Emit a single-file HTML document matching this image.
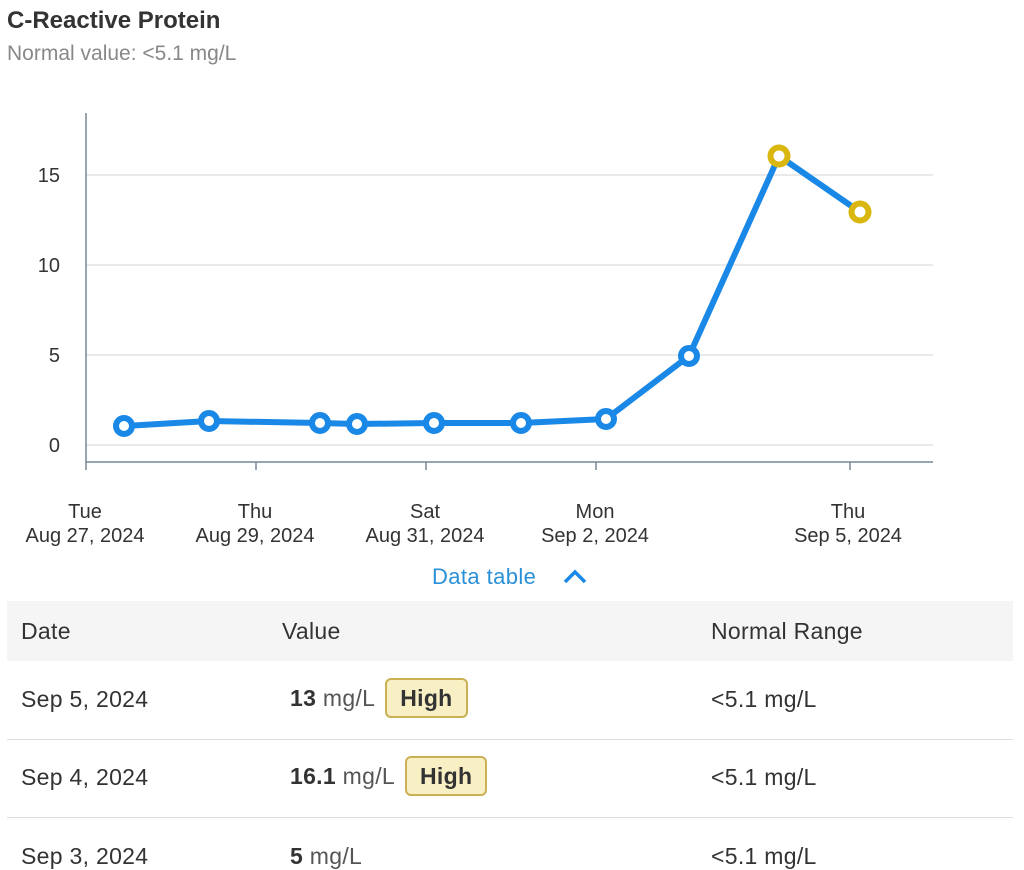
<!DOCTYPE html>
<html><head><meta charset="utf-8"><style>
body{margin:0;width:1024px;height:867px;background:#fff;overflow:hidden;position:relative;font-family:"Liberation Sans",sans-serif}
.t{position:absolute;white-space:nowrap}
.h{font-size:24px;font-weight:bold;color:#333;left:7px;top:7px}
.s{font-size:21px;color:#888;left:7px;top:42px}
.row{position:absolute;left:7px;width:1006px;border-bottom:1px solid #ddd}
.c{position:absolute;font-size:23px;color:#333;white-space:nowrap;letter-spacing:0.3px}
.badge{display:inline-block;background:#f8efc4;border:2px solid #c9b055;border-radius:6px;padding:2px 13px;font-weight:bold;color:#333;margin-left:10px;line-height:32px}
</style></head><body>
<div class="t h">C-Reactive Protein</div>
<div class="t s">Normal value: &lt;5.1 mg/L</div>
<svg width="1024" height="600" style="position:absolute;left:0;top:0" font-family="Liberation Sans, sans-serif">
<g stroke="#e4e4e4" stroke-width="1.5">
<line x1="86" y1="175" x2="933" y2="175"/><line x1="86" y1="265" x2="933" y2="265"/>
<line x1="86" y1="355" x2="933" y2="355"/><line x1="86" y1="445" x2="933" y2="445"/></g>
<line x1="86" y1="113" x2="86" y2="462" stroke="#778899" stroke-width="1.5"/>
<line x1="86" y1="462" x2="933" y2="462" stroke="#778899" stroke-width="1.5"/>
<g stroke="#778899" stroke-width="1.5"><line x1="86" y1="462" x2="86" y2="470"/><line x1="256" y1="462" x2="256" y2="470"/><line x1="426" y1="462" x2="426" y2="470"/><line x1="596" y1="462" x2="596" y2="470"/><line x1="850" y1="462" x2="850" y2="470"/></g>
<g font-size="20" fill="#333" text-anchor="end"><text x="60" y="182">15</text><text x="60" y="272">10</text><text x="60" y="362">5</text><text x="60" y="452">0</text></g>
<g font-size="20" fill="#333" text-anchor="middle">
<text x="85" y="518">Tue</text><text x="85" y="542">Aug 27, 2024</text>
<text x="255" y="518">Thu</text><text x="255" y="542">Aug 29, 2024</text>
<text x="425" y="518">Sat</text><text x="425" y="542">Aug 31, 2024</text>
<text x="595" y="518">Mon</text><text x="595" y="542">Sep 2, 2024</text>
<text x="848" y="518">Thu</text><text x="848" y="542">Sep 5, 2024</text></g>
<polyline fill="none" stroke="#1a88e6" stroke-width="6" stroke-linejoin="round" points="124,426 209,421 320,423 357,424 434,423 521,423 606,419 689,356 779,156 860,212"/>
<g fill="#fff" stroke="#1a88e6" stroke-width="6">
<circle cx="124" cy="426" r="8"/><circle cx="209" cy="421" r="8"/><circle cx="320" cy="423" r="8"/><circle cx="357" cy="424" r="8"/><circle cx="434" cy="423" r="8"/><circle cx="521" cy="423" r="8"/><circle cx="606" cy="419" r="8"/><circle cx="689" cy="356" r="8"/></g>
<g fill="#fff" stroke="#d9b70f" stroke-width="6">
<circle cx="779" cy="156" r="8.5"/><circle cx="860" cy="212" r="8.5"/></g>
<text x="432" y="584" font-size="22" fill="#2a90d8" letter-spacing="0.4">Data table</text>
<polyline points="565,582 575,572 585,582" fill="none" stroke="#1a88e6" stroke-width="3.5"/>
</svg>
<div style="position:absolute;left:7px;top:601px;width:1006px;height:60px;background:#f5f5f5"></div>
<div class="c" style="left:21px;top:618px">Date</div>
<div class="c" style="left:282px;top:618px">Value</div>
<div class="c" style="left:711px;top:618px">Normal Range</div>
<div class="row" style="top:661px;height:78px"></div>
<div class="row" style="top:739px;height:78px"></div>
<div class="c" style="left:21px;top:686px">Sep 5, 2024</div>
<div class="c" style="left:290px;top:678px"><b>13</b> <span style="color:#555">mg/L</span><span class="badge">High</span></div>
<div class="c" style="left:711px;top:686px">&lt;5.1 mg/L</div>
<div class="c" style="left:21px;top:764px">Sep 4, 2024</div>
<div class="c" style="left:290px;top:756px"><b>16.1</b> <span style="color:#555">mg/L</span><span class="badge">High</span></div>
<div class="c" style="left:711px;top:764px">&lt;5.1 mg/L</div>
<div class="c" style="left:21px;top:843px">Sep 3, 2024</div>
<div class="c" style="left:290px;top:843px"><b>5</b> <span style="color:#555">mg/L</span></div>
<div class="c" style="left:711px;top:843px">&lt;5.1 mg/L</div>
</body></html>
